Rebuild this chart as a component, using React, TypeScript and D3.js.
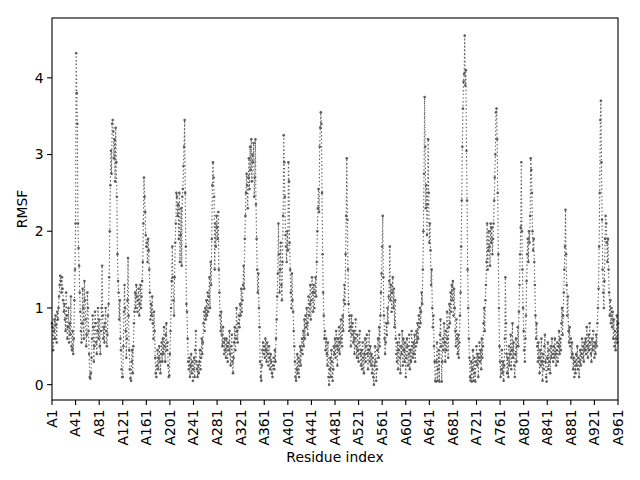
import { useEffect, useRef } from "react";
import * as d3 from "d3";

// RMSF per residue (A1..A961)
const rmsf: number[] = [
  0.8, 0.75, 0.45, 0.7, 0.85, 0.6, 0.9, 0.78, 0.55, 0.95, 0.85, 1.0, 1.15, 1.3,
  1.42, 1.35, 1.2, 1.4, 1.25, 1.1, 0.95,
  1.05, 0.85, 0.7, 1.2, 0.9, 0.6, 0.75, 1.0, 0.55, 0.8, 0.65, 1.15, 0.5, 0.45,
  0.7, 0.4, 0.6, 1.1, 1.5,
  2.1, 4.32, 3.8, 3.4, 2.1,
  1.78, 1.55, 1.2, 0.95, 0.7,
  0.55, 0.8, 1.25, 1.0, 0.6, 1.35, 1.1, 0.85, 0.5, 0.65, 1.2, 1.0,
  0.7, 0.4, 0.1, 0.08, 0.15, 0.35, 0.6,
  0.9, 0.75, 0.3, 0.5, 0.95, 0.8, 0.55, 0.4, 0.7, 1.0, 0.6,
  0.85, 0.5, 0.4, 0.7, 1.0, 1.55,
  0.9, 0.6, 0.75, 0.55, 0.8, 1.0, 0.7, 0.5, 0.65, 0.9, 1.05,
  1.4, 2.0, 2.6, 3.05, 2.75, 3.4, 3.45, 3.3, 2.95, 3.2, 2.65, 3.35, 2.9, 2.45, 1.7,
  1.35, 1.2, 0.85, 1.1, 0.6, 0.45, 0.2, 0.1,
  0.1, 0.5, 0.95, 1.3, 1.0, 0.7, 0.35, 0.6, 1.1, 1.65,
  0.9, 0.45, 0.2, 0.08, 0.05, 0.3, 0.45, 0.15, 0.5, 0.8,
  0.95, 1.2, 1.0, 1.3, 1.15, 0.95, 1.1, 1.25, 0.9, 1.05, 1.3, 1.0, 1.15, 1.35, 1.6, 2.1,
  2.7, 2.45, 2.25, 1.95, 1.8, 1.85, 1.6, 1.9, 1.75, 1.5,
  1.2, 0.85, 1.05, 0.9, 1.15, 0.8, 0.6, 0.95, 0.7,
  0.35, 0.15, 0.1, 0.25, 0.45, 0.2, 0.35, 0.5, 0.3, 0.15, 0.4, 0.55, 0.3,
  0.6, 0.4, 0.75, 0.5, 0.3, 0.65, 0.8, 0.45, 0.55, 0.25, 0.1, 0.12,
  0.4, 0.7, 1.0, 1.35, 1.8, 1.4, 1.1, 0.9, 1.4, 1.85,
  2.1, 2.5, 2.45, 2.2, 2.35, 1.9, 2.5, 1.6, 1.95, 2.3, 1.55, 2.45,
  2.55, 2.85, 3.1, 3.45, 2.5, 1.8, 1.05, 0.95,
  0.6, 0.3, 0.2, 0.35, 0.1, 0.25, 0.4, 0.15, 0.3, 0.05, 0.2, 0.35, 0.1, 0.45, 0.7, 0.3, 0.2, 0.1, 0.25, 0.15,
  0.3, 0.45, 0.2, 0.35, 0.6, 0.4, 0.55, 0.8, 0.95, 0.7, 1.0, 0.85,
  1.1, 0.9, 1.2, 0.95, 1.15, 1.4, 1.0, 1.6, 1.3, 1.9,
  2.6, 2.9, 2.7, 2.45, 1.5, 2.1, 1.8, 2.2, 2.05, 1.9, 2.25, 1.5, 1.2, 0.9,
  0.7, 0.95, 0.65, 0.5, 0.75, 0.55, 0.4, 0.6, 0.45, 0.35, 0.6, 0.5, 0.3, 0.55,
  0.45, 0.7, 0.4, 0.25, 0.5, 0.65, 0.3, 0.15, 0.35, 0.55, 0.75, 0.45, 0.6, 1.0, 0.7, 0.55, 0.8, 0.9,
  0.75, 1.05, 0.9, 1.25, 0.95, 1.1, 1.3, 1.55, 1.25, 1.9, 2.2, 2.5, 2.75, 2.6,
  2.3, 2.7, 2.95, 2.55, 3.1, 2.8, 3.2, 2.65, 3.0, 2.9, 3.15, 2.45, 2.7, 3.2, 2.35, 1.9, 1.5, 1.2,
  1.45, 1.0, 0.75, 0.3, 0.1, 0.05, 0.25, 0.45, 0.55, 0.4,
  0.5, 0.35, 0.6, 0.45, 0.3, 0.55, 0.4, 0.25, 0.5, 0.35, 0.2, 0.4, 0.3, 0.15, 0.1, 0.25, 0.35, 0.2, 0.45, 0.3,
  0.6, 0.85, 1.15, 1.45, 2.1, 1.7, 1.2, 1.5, 1.85, 1.3, 1.1, 1.6,
  2.2, 3.25, 2.9, 2.45, 1.95, 1.8, 1.6, 2.0, 1.75, 2.9, 2.65, 1.85,
  1.5, 1.2, 1.0, 1.45, 1.1, 0.95, 0.7, 0.5,
  0.3, 0.1, 0.05, 0.2, 0.4, 0.15, 0.35, 0.1, 0.3, 0.5, 0.25, 0.45,
  0.6, 0.4, 0.7, 0.5, 0.85, 0.6, 0.9, 0.75, 1.0, 0.8, 0.65, 1.15, 0.9, 1.05, 1.3, 0.85, 1.1, 1.4,
  1.2, 0.95, 1.3, 1.0, 1.2, 1.4, 1.15, 1.6, 2.0, 2.3, 2.55, 2.25, 3.1, 3.35, 3.55, 3.4,
  2.5, 1.7, 1.2, 0.9, 0.6, 0.7, 0.45, 0.6,
  0.4, 0.25, 0.55, 0.1, 0.0, 0.2, 0.35, 0.1, 0.45, 0.3, 0.05, 0.2, 0.5, 0.4,
  0.6, 0.35, 0.7, 0.5, 0.25, 0.6, 0.45, 0.75, 0.4, 0.55, 0.85, 0.6, 0.5, 0.9, 0.7, 1.1,
  1.3, 1.05, 1.7, 2.2, 2.95, 2.15, 1.5, 1.05, 0.7, 0.9,
  0.75, 0.5, 0.9, 0.65, 0.8, 0.55, 0.7, 0.4, 0.6, 0.85, 0.5, 0.35, 0.65, 0.45, 0.3, 0.55, 0.7, 0.4,
  0.25, 0.45, 0.2, 0.55, 0.35, 0.15, 0.4, 0.6, 0.3, 0.5, 0.65, 0.4, 0.2, 0.45, 0.7, 0.3, 0.5, 0.25, 0.4, 0.15, 0.35,
  0.1, 0.0, 0.25, 0.5, 0.3, 0.05, 0.2, 0.45, 0.6, 0.35, 0.75, 0.5, 0.9, 1.2, 1.45,
  1.8, 2.2, 1.4, 0.9, 0.6, 0.4,
  0.55, 0.8, 0.65, 1.0, 0.8, 1.15, 1.35, 1.8, 1.1, 1.3, 0.95, 1.2, 1.4, 1.0, 1.25, 0.75, 1.1, 0.6, 0.4,
  0.3, 0.55, 0.2, 0.45, 0.65, 0.35, 0.15, 0.5, 0.4, 0.7, 0.25, 0.6, 0.45, 0.3, 0.55, 0.1, 0.35,
  0.6, 0.5, 0.25, 0.4, 0.65, 0.2, 0.45, 0.3, 0.7, 0.5, 0.35, 0.55, 0.4, 0.65, 0.3, 0.5,
  0.7, 0.55, 0.8, 0.6, 0.9, 0.75, 1.0, 0.8, 0.95, 1.2, 1.05, 1.5,
  2.0, 2.75, 3.75, 3.1, 2.3, 2.6, 1.95, 2.35, 3.2, 2.5, 1.85, 2.1,
  1.75, 1.3, 1.5, 1.0, 0.75, 0.9, 0.5, 0.3,
  0.05, 0.04, 0.3, 0.55, 0.05, 0.2, 0.45, 0.04, 0.65, 0.85, 0.5, 0.04,
  0.3, 0.6, 0.45, 0.8, 0.55, 0.3, 0.7, 0.45, 0.95, 0.6, 0.35, 0.75, 1.05, 0.8, 1.2, 0.95, 1.3, 1.1, 1.35, 0.9,
  1.25, 1.0, 0.7, 0.5, 0.85, 0.6, 0.4, 0.65, 0.35, 0.55, 0.9, 1.2,
  1.8, 2.4, 3.1, 3.6, 3.95, 4.05, 4.55, 3.9, 4.1, 3.05, 2.4, 1.5,
  1.0, 0.6, 0.35, 0.1, 0.05, 0.3, 0.04, 0.2, 0.45, 0.05, 0.35, 0.15,
  0.04, 0.3, 0.5, 0.25, 0.4, 0.1, 0.35, 0.55, 0.3, 0.45, 0.2, 0.6, 0.35, 0.5,
  0.8, 1.0, 0.7, 1.1, 1.3, 1.6, 2.1, 1.5, 1.75, 2.0, 1.8, 1.55, 2.1, 1.85, 2.05, 1.7,
  1.9, 2.1, 2.4, 2.7, 3.0, 3.55, 3.6, 3.2, 2.5, 1.7, 1.0, 0.5,
  0.3, 0.1, 0.2, 0.45, 0.15, 0.3, 0.05, 0.25, 0.6, 1.4, 0.8, 0.4,
  0.15, 0.35, 0.1, 0.5, 0.25, 0.4, 0.65, 0.2, 0.45, 0.8, 0.35, 0.55, 0.25, 0.1, 0.4, 0.6, 0.3, 0.5,
  0.75, 0.5, 0.95, 1.3, 1.7, 2.05, 2.9, 2.0, 1.5, 1.0, 0.7, 0.45,
  0.3, 0.6, 0.9, 1.35, 1.7, 1.9, 1.6, 2.0, 1.85, 2.2, 2.95, 2.8,
  2.5, 2.0, 1.75, 1.9, 1.6, 1.3, 0.9, 0.6, 0.8, 0.5, 0.3, 0.55,
  0.35, 0.15, 0.45, 0.25, 0.6, 0.3, 0.05, 0.4, 0.2, 0.5, 0.65, 0.3, 0.1, 0.04, 0.35, 0.55, 0.2, 0.45, 0.3, 0.15,
  0.5, 0.35, 0.6, 0.4,
  0.3, 0.5, 0.35, 0.6, 0.4, 0.25, 0.45, 0.55, 0.3, 0.5, 0.7, 0.4, 0.6, 0.45, 0.8, 1.0, 0.65, 0.9, 1.2, 1.5,
  1.8, 2.28, 1.7, 1.3, 0.9, 1.15, 0.7, 0.55, 0.75, 0.5, 0.6, 0.35, 0.55, 0.4,
  0.2, 0.35, 0.1, 0.3, 0.15, 0.4, 0.25, 0.5, 0.2, 0.35, 0.1, 0.3, 0.45, 0.25, 0.4, 0.6, 0.35, 0.5, 0.3, 0.55, 0.45,
  0.6, 0.4, 0.75, 0.5, 0.35, 0.65, 0.45, 0.8, 0.55, 0.4, 0.3, 0.6, 0.45, 0.7, 0.5, 0.35, 0.55, 0.4, 0.65, 0.5,
  0.8, 1.0, 1.25,
  1.8, 2.5, 3.45, 3.7, 2.9, 2.15, 1.5, 1.2, 1.0, 1.35, 1.9, 2.2,
  2.1, 1.85, 1.6, 1.9, 1.5, 1.2, 0.9, 1.1, 0.8, 1.0, 0.75, 0.95,
  0.6, 0.85, 0.5, 0.7, 0.45, 0.6, 0.9, 0.55, 0.8,
];

const xTickResidues = [
  1, 41, 81, 121, 161, 201, 241, 281, 321, 361, 401, 441, 481, 521, 561, 601,
  641, 681, 721, 761, 801, 841, 881, 921, 961,
];
const xTickLabels = xTickResidues.map((r) => `A${r}`);
const yTicks = [0, 1, 2, 3, 4];

const W = 640;
const H = 480;
const FONT = "DejaVu Sans, sans-serif";
const INK = "#5b5b5b";

export default function App() {
  const ref = useRef<SVGSVGElement | null>(null);

  useEffect(() => {
    if (!ref.current) return;
    const svg = d3.select(ref.current);
    svg.selectAll("*").remove();

    const left = 52;
    const right = 618;
    const top = 18;
    const bottom = 400;

    const x = d3.scaleLinear().domain([1, 961]).range([left, right]);
    const y = d3.scaleLinear().domain([-0.2, 4.78]).range([bottom, top]);

    svg.append("rect").attr("width", W).attr("height", H).attr("fill", "#fff");

    // series: dotted line with small point markers
    const line = d3
      .line<number>()
      .x((_, i) => x(i + 1))
      .y((d) => y(d));

    svg
      .append("path")
      .datum(rmsf)
      .attr("d", line)
      .attr("fill", "none")
      .attr("stroke", INK)
      .attr("stroke-width", 1.1)
      .attr("stroke-dasharray", "1.4,2.3");

    svg
      .append("g")
      .attr("fill", INK)
      .selectAll("circle")
      .data(rmsf)
      .join("circle")
      .attr("cx", (_, i) => x(i + 1))
      .attr("cy", (d) => y(d))
      .attr("r", 1.3);

    // frame
    svg
      .append("rect")
      .attr("x", left)
      .attr("y", top)
      .attr("width", right - left)
      .attr("height", bottom - top)
      .attr("fill", "none")
      .attr("stroke", "#000")
      .attr("stroke-width", 1.1);

    // x ticks
    const xt = svg.append("g");
    xTickResidues.forEach((r, i) => {
      const px = x(r);
      xt.append("line")
        .attr("x1", px)
        .attr("x2", px)
        .attr("y1", bottom)
        .attr("y2", bottom + 4.9)
        .attr("stroke", "#000")
        .attr("stroke-width", 1.1);
      xt.append("text")
        .attr("transform", `translate(${px},${bottom + 9.5}) rotate(-90)`)
        .attr("text-anchor", "end")
        .attr("dy", "0.35em")
        .attr("font-family", FONT)
        .attr("font-size", 13.9)
        .text(xTickLabels[i]);
    });

    // y ticks
    const yt = svg.append("g");
    yTicks.forEach((v) => {
      const py = y(v);
      yt.append("line")
        .attr("x1", left - 4.9)
        .attr("x2", left)
        .attr("y1", py)
        .attr("y2", py)
        .attr("stroke", "#000")
        .attr("stroke-width", 1.1);
      yt.append("text")
        .attr("x", left - 8.5)
        .attr("y", py)
        .attr("dy", "0.35em")
        .attr("text-anchor", "end")
        .attr("font-family", FONT)
        .attr("font-size", 13.9)
        .text(String(v));
    });

    svg
      .append("text")
      .attr("x", (left + right) / 2)
      .attr("y", 462)
      .attr("text-anchor", "middle")
      .attr("font-family", FONT)
      .attr("font-size", 13.9)
      .text("Residue index");

    svg
      .append("text")
      .attr("transform", `translate(27,${(top + bottom) / 2}) rotate(-90)`)
      .attr("text-anchor", "middle")
      .attr("font-family", FONT)
      .attr("font-size", 13.9)
      .text("RMSF");
  }, []);

  return (
    <svg
      ref={ref}
      width={W}
      height={H}
      style={{ position: "absolute", left: 0, top: 0, display: "block" }}
    />
  );
}
